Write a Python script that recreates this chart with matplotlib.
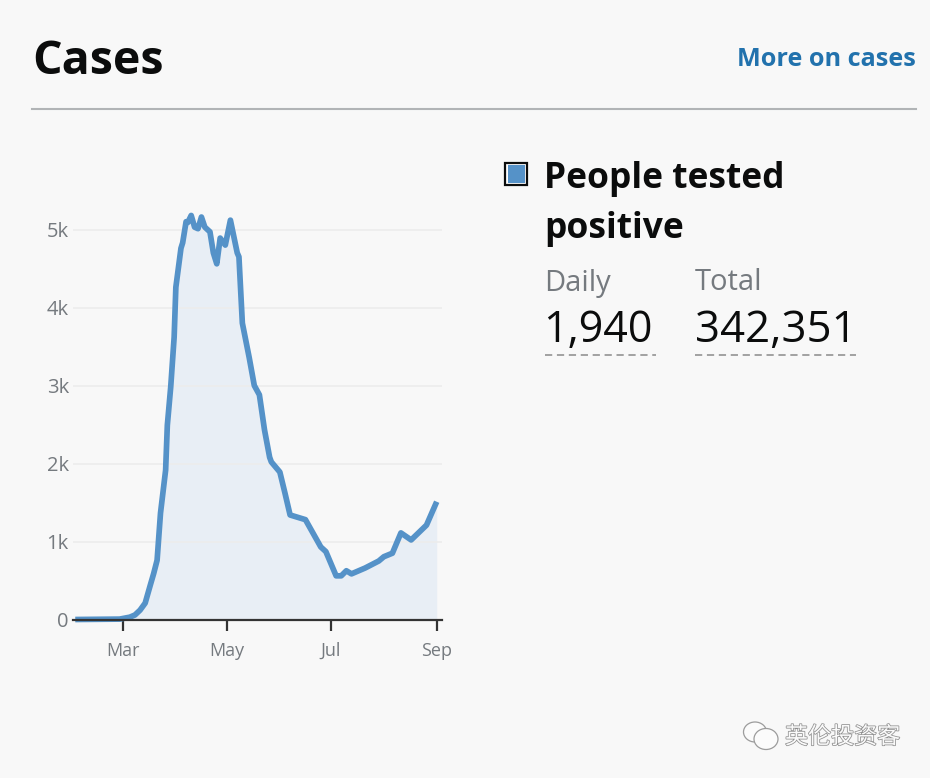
import matplotlib.dates as mdates
import matplotlib.patheffects as pe
import matplotlib.pyplot as plt
import pandas as pd
from matplotlib.patches import Ellipse, Rectangle

W, H = 930, 778

# -- Data ---------------------------------------------------------------------
dates = [
    "2020-02-02", "2020-02-28", "2020-03-05", "2020-03-08", "2020-03-11", "2020-03-14",
    "2020-03-17", "2020-03-19", "2020-03-21", "2020-03-23", "2020-03-26", "2020-03-27",
    "2020-03-29", "2020-03-31", "2020-04-01", "2020-04-04", "2020-04-05",
    "2020-04-07", "2020-04-08", "2020-04-10", "2020-04-12", "2020-04-14", "2020-04-16",
    "2020-04-18", "2020-04-21", "2020-04-23", "2020-04-25", "2020-04-27", "2020-04-30",
    "2020-05-03", "2020-05-07", "2020-05-08", "2020-05-10", "2020-05-14", "2020-05-17",
    "2020-05-20", "2020-05-23", "2020-05-26", "2020-05-27", "2020-06-01", "2020-06-04",
    "2020-06-07", "2020-06-10", "2020-06-16", "2020-06-25", "2020-06-28", "2020-07-04",
    "2020-07-07", "2020-07-10", "2020-07-13", "2020-07-21", "2020-07-29", "2020-08-01",
    "2020-08-06", "2020-08-11", "2020-08-17", "2020-08-26", "2020-09-01",
]
cases = [
    0, 5, 30, 58, 120, 210,
    440, 590, 760, 1365, 1915, 2490,
    2985, 3620, 4260, 4760, 4830,
    5100, 5090, 5180, 5030, 5010, 5160,
    5030, 4970, 4700, 4560, 4890, 4800,
    5120, 4700, 4650, 3800, 3360, 3000,
    2880, 2430, 2080, 2020, 1890, 1620,
    1340, 1320, 1280, 930, 870, 560,
    560, 625, 585, 660, 750, 805,
    850, 1110, 1020, 1210, 1510,
]
y_ticks = [0, 1000, 2000, 3000, 4000, 5000]
y_labels = ["0", "1k", "2k", "3k", "4k", "5k"]
x_ticks = ["2020-03-01", "2020-05-01", "2020-07-01", "2020-09-01"]
x_labels = ["Mar", "May", "Jul", "Sep"]

BG = "#f8f8f8"
BLUE = "#5592c8"
GREY = "#757a7f"
FONT = "Open Sans"
CJK = ["Noto Sans CJK SC", "DejaVu Sans"]


def fx(x):
    return x / W


def fy(y):
    return 1 - y / H


fig = plt.figure(figsize=(W / 100, H / 100), dpi=100, facecolor=BG)

# -- Chart --------------------------------------------------------------------
left, right, top, bottom = 73, 442, 205, 619.5
ax = fig.add_axes([fx(left), fy(bottom), (right - left) / W, (bottom - top) / H])
ax.set_facecolor(BG)

t = mdates.date2num(pd.to_datetime(dates))
ax.fill_between(t, cases, 0, color="#e8eef5", lw=0, zorder=1)
ax.plot(t, cases, color=BLUE, lw=4.1, solid_joinstyle="round", solid_capstyle="butt",
        clip_on=False, zorder=3)

mar1 = mdates.date2num(pd.Timestamp("2020-03-01"))
px_per_day = 1.705
ax.set_xlim(mar1 + (left - 123) / px_per_day, mar1 + (right - 123) / px_per_day)
ax.set_ylim(0, (bottom - top) / 0.078)

ax.set_xticks(mdates.date2num(pd.to_datetime(x_ticks)))
ax.set_xticklabels(x_labels, family=FONT, fontsize=13, color=GREY)
ax.set_yticks(y_ticks)
ax.set_yticklabels(y_labels, family=FONT, fontsize=14.5, color=GREY)
ax.tick_params(axis="x", length=8, width=1.6, color="#333333", pad=8)
ax.tick_params(axis="y", length=0, pad=3)
ax.grid(axis="y", color="#ececec", lw=1.2, zorder=2)
ax.set_axisbelow(False)
for side in ["top", "left", "right"]:
    ax.spines[side].set_visible(False)
ax.spines["bottom"].set_color("#333333")
ax.spines["bottom"].set_linewidth(1.6)
ax.spines["bottom"].set_zorder(4)

# -- Header -------------------------------------------------------------------
fig.text(fx(32), fy(62), "Cases", family=FONT, weight="bold", fontsize=33.4, color="#0b0c0c", va="center")
fig.text(fx(916), fy(60), "More on cases", family=FONT, weight="bold", fontsize=18.2, color="#2272ad",
         ha="right", va="center")
fig.add_artist(plt.Line2D([fx(32), fx(916)], [fy(108.5)] * 2, color="#b1b4b6", lw=1.5))

# -- Legend block -------------------------------------------------------------
fig.add_artist(Rectangle((fx(505), fy(185)), 22 / W, 22 / H, transform=fig.transFigure,
                         facecolor="#ffffff", edgecolor="#0b0c0c", lw=1.6))
fig.add_artist(Rectangle((fx(507.5), fy(182.8)), 17.5 / W, 17.5 / H, transform=fig.transFigure,
                         facecolor=BLUE, edgecolor="none"))
fig.text(fx(544), fy(179), "People tested", family=FONT, weight="bold", fontsize=25.5, color="#0b0c0c", va="center")
fig.text(fx(544), fy(229), "positive", family=FONT, weight="bold", fontsize=25.5, color="#0b0c0c", va="center")
fig.text(fx(544), fy(283), "Daily", family=FONT, fontsize=21, color=GREY, va="center")
fig.text(fx(695), fy(283), "Total", family=FONT, fontsize=21, color=GREY, va="center")
fig.text(fx(543), fy(331), "1,940", family=FONT, fontsize=31, color="#0b0c0c", va="center")
fig.text(fx(695), fy(331), "342,351", family=FONT, fontsize=31.5, color="#0b0c0c", va="center")
for x0, x1 in [(545, 656), (695, 856)]:
    fig.add_artist(plt.Line2D([fx(x0), fx(x1)], [fy(354.5)] * 2, color="#9a9a9a", lw=1.3,
                              linestyle=(0, (4, 2.6))))

# -- Watermark ----------------------------------------------------------------
for cx, cy, w, h in [(755, 732, 23, 20), (766, 739, 24, 21)]:
    fig.add_artist(Ellipse((fx(cx), fy(cy)), w / W, h / H, transform=fig.transFigure,
                           facecolor="#fbfbfb", edgecolor="#9c9c9c", lw=0.9))
fig.text(fx(785), fy(737), "英伦投资客", family=CJK, fontsize=16.6, color="#fafafa", va="center",
         path_effects=[pe.withStroke(linewidth=1.1, foreground="#8f8f8f")])

fig.savefig("out.png", dpi=100, facecolor=BG)
